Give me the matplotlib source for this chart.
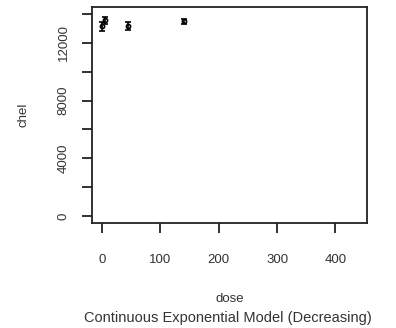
import matplotlib
matplotlib.use('Agg')
import matplotlib.pyplot as plt

# data
dose = [0, 5, 45, 140]
chel = [13150, 13550, 13150, 13480]
err = [300, 250, 280, 180]

xticks = [0, 100, 200, 300, 400]
yticks = [0, 2000, 4000, 6000, 8000, 10000, 12000, 14000]
ylabels = ['0', '', '4000', '', '8000', '', '12000', '']

plt.rcParams['font.family'] = ['Liberation Sans', 'DejaVu Sans']

fig = plt.figure(figsize=(3.96, 3.28), dpi=100)
ax = fig.add_axes([92/396, 1-223/328, (367-92)/396, (223-7)/328])

ax.errorbar(dose, chel, yerr=err, fmt='o', ms=3, mfc='none', mec='black',
            ecolor='black', elinewidth=1.2, capsize=2.2, mew=1.2, color='black')

ax.set_xlim(-17, 454)
ax.set_ylim(-485, 14480)
ax.set_xticks(xticks)
ax.set_xticklabels([str(v) for v in xticks], fontsize=9.5, color='#333333')
ax.set_yticks(yticks)
ax.set_yticklabels(ylabels, fontsize=9.5, rotation=90, va='center', color='#333333')

for s in ax.spines.values():
    s.set_linewidth(1.3)
    s.set_color('#222222')
ax.tick_params(direction='out', length=7, width=1.3, color='#222222')
ax.tick_params(axis='x', pad=15)
ax.tick_params(axis='y', pad=9)

ax.set_xlabel('dose', fontsize=9.5, color='#333333', labelpad=20)
ax.set_ylabel('chel', fontsize=9.5, color='#333333', labelpad=20)
fig.text(228/396, 1-318/328, 'Continuous Exponential Model (Decreasing)',
         ha='center', va='center', fontsize=10.5, color='#333333')

plt.savefig('out.png', dpi=100)
